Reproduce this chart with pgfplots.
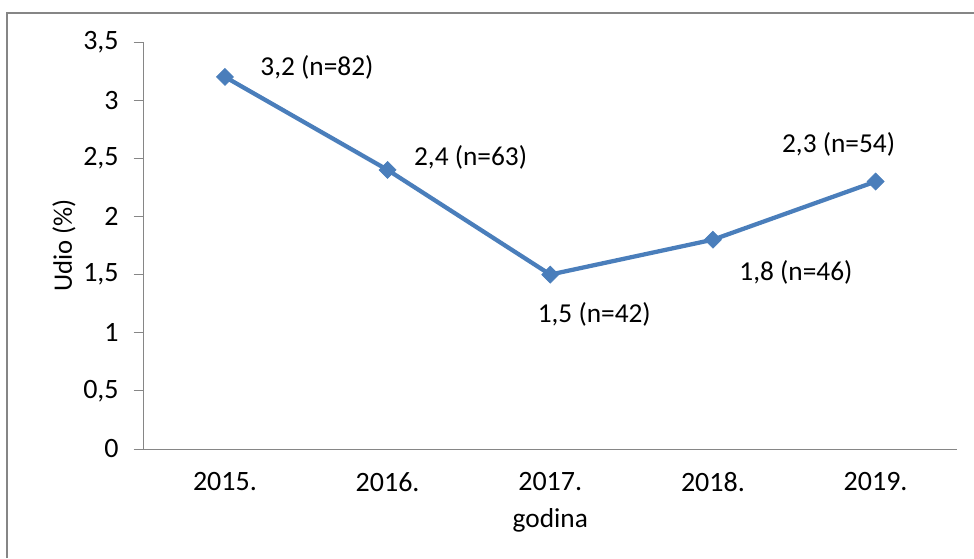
\documentclass[border=0pt]{standalone}
\usepackage{pgfplots}
\pgfplotsset{compat=1.18}
\usepackage{fontspec}
\setmainfont{Carlito}

\definecolor{serie}{HTML}{4A7EBB}
\definecolor{osi}{HTML}{868686}

\begin{document}
\begin{tikzpicture}[font=\fontsize{20.5}{24}\selectfont]
\path[use as bounding box] (0,0) rectangle (730.5pt,418.5pt);
\draw[osi, line width=1.2pt] (5.25pt,0) -- (5.25pt,408.75pt) -- (730.5pt,408.75pt);
\begin{axis}[
    at={(107.7pt,81.75pt)},
    anchor=south west,
    scale only axis,
    width=610pt,
    height=305.25pt,
    xmin=-0.5, xmax=4.5,
    ymin=0, ymax=3.5,
    xtick=data,
    xticklabels={2015.,2016.,2017.,2018.,2019.},
    ytick={0,0.5,...,3.5},
    axis x line=bottom,
    axis y line=left,
    axis line style={osi, line width=0.75pt, -},
    x tick style={draw=none},
    ytick align=outside,
    y tick style={osi, line width=0.75pt},
    major tick length=7.5pt,
    /pgf/number format/use comma,
    /pgf/number format/assume math mode=true,
    tick label style={font=\fontsize{21}{25}\selectfont, black},
    yticklabel style={anchor=east, inner sep=0pt, xshift=-11pt},
    xticklabel style={anchor=center, inner sep=0pt, yshift=-21pt},
    xlabel={godina},
    ylabel={Udio (\%)},
    every axis x label/.style={at={(axis description cs:0.5,-0.1744)}, anchor=center, font=\fontsize{20.5}{24}\selectfont},
    every axis y label/.style={at={(axis description cs:-0.0979,0.5)}, anchor=center, rotate=90, font=\fontsize{20}{24}\selectfont},
    clip=false,
    ]
    \addplot[
        serie, line width=3.2pt,
        mark=square*, mark size=4.5pt,
        mark options={rotate=45, fill=serie, draw=serie, line width=0.5pt},
        point meta=explicit symbolic,
        nodes near coords,
        visualization depends on={\thisrow{dx} \as \dx},
        visualization depends on={\thisrow{dy} \as \dy},
        every node near coord/.append style={anchor=center, inner sep=0pt, black,
            xshift=\dx pt, yshift=\dy pt, font=\fontsize{20.5}{24}\selectfont},
    ] table[col sep=semicolon, x=x, y=y, meta=label] {
x;y;label;dx;dy
0;3.2;3,2 (n=82);69;6.75
1;2.4;2,4 (n=63);62.25;9.75
2;1.5;1,5 (n=42);33;-30
3;1.8;1,8 (n=46);62.25;-24.75
4;2.3;2,3 (n=54);-27.75;27.75
    };
\end{axis}
\end{tikzpicture}
\end{document}
